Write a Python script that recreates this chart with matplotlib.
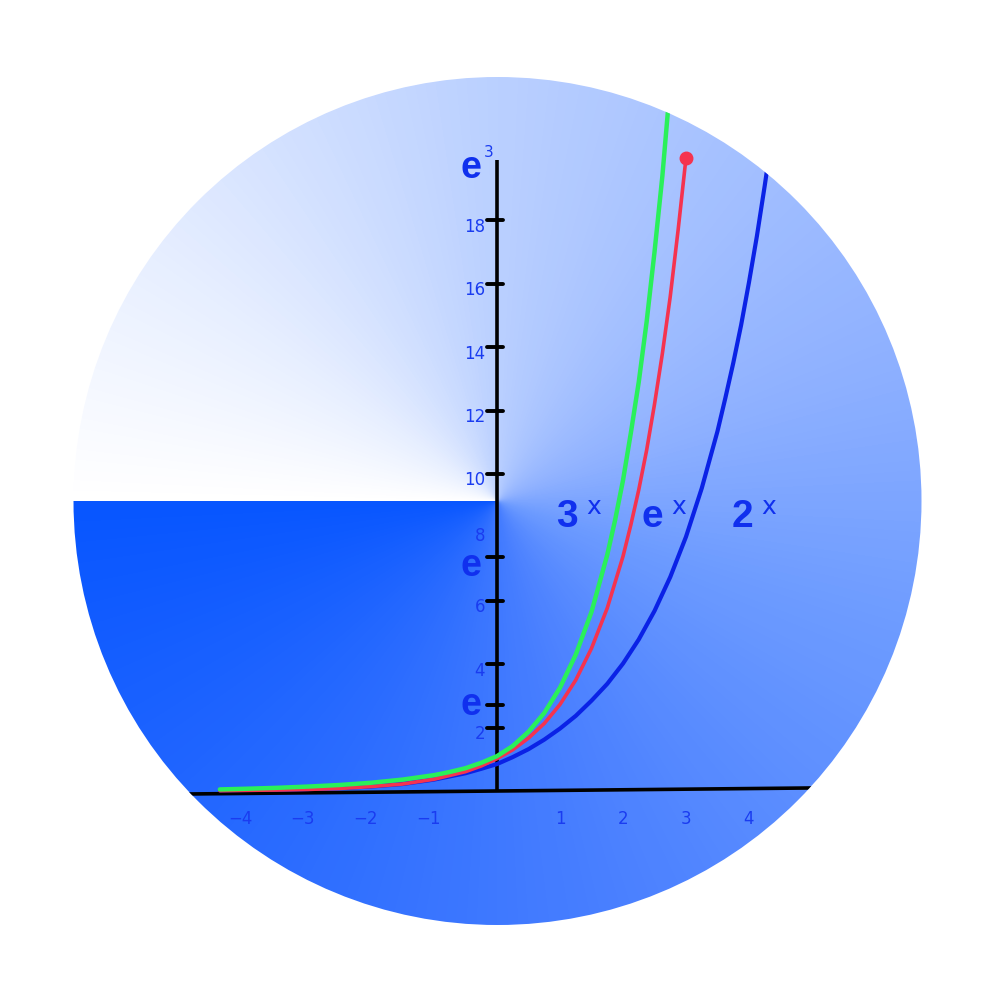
import numpy as np
import matplotlib
matplotlib.use("Agg")
import matplotlib.pyplot as plt
from matplotlib.colors import LinearSegmentedColormap
from matplotlib.patches import Circle

E = np.e

# curve values
green_x = [-4.4, -4.0, -3.5, -3.0, -2.5, -2.0, -1.5, -1.0, -0.75, -0.5, -0.25, 0.0,
           0.25, 0.5, 0.75, 1.0, 1.25, 1.5, 1.75, 1.875, 2.0, 2.125, 2.25, 2.375,
           2.5, 2.625, 2.75, 2.85]
green_y = [0.05, 0.07, 0.10, 0.14, 0.19, 0.26, 0.36, 0.50, 0.60, 0.72, 0.89, 1.10,
           1.42, 1.87, 2.46, 3.26, 4.30, 5.65, 7.45, 8.55, 9.8, 11.3, 12.9, 14.8,
           17.0, 19.4, 22.3, 24.6]

red_x = [-4.4, -4.0, -3.5, -3.0, -2.5, -2.0, -1.5, -1.0, -0.5, -0.25, 0.0, 0.25,
         0.5, 0.75, 1.0, 1.25, 1.5, 1.75, 2.0, 2.125, 2.25, 2.375, 2.5, 2.625,
         2.75, 2.875, 3.0]
red_y = [0.01, 0.02, 0.03, 0.05, 0.08, 0.14, 0.22, 0.37, 0.61, 0.79, 1.02, 1.30,
         1.67, 2.13, 2.73, 3.50, 4.50, 5.77, 7.40, 8.40, 9.50, 10.75, 12.2, 13.8,
         15.6, 17.7, 19.97]

blue_x = [-4.4, -4.0, -3.5, -3.0, -2.5, -2.0, -1.5, -1.0, -0.5, -0.25, 0.0, 0.25,
          0.5, 0.75, 1.0, 1.25, 1.5, 1.75, 2.0, 2.25, 2.5, 2.75, 3.0, 3.25, 3.5,
          3.625, 3.75, 3.875, 4.0, 4.125, 4.25, 4.375, 4.5]
blue_y = [0.02, 0.03, 0.04, 0.06, 0.09, 0.14, 0.22, 0.36, 0.56, 0.70, 0.85, 1.07,
          1.32, 1.62, 1.97, 2.37, 2.85, 3.38, 4.02, 4.78, 5.68, 6.75, 8.02, 9.55,
          11.35, 12.4, 13.5, 14.7, 16.05, 17.5, 19.1, 20.8, 22.7]

y_tick_vals = [2, 4, 6, E, E**2, 10, 12, 14, 16, 18]
y_label_vals = [2, 4, 6, 8, 10, 12, 14, 16, 18]
x_label_vals = [-4, -3, -2, -1, 1, 2, 3, 4]
y_top = 19.9

label_blue = "#1a3cf0"
name_blue = "#1030ee"

fig = plt.figure(figsize=(10, 10), dpi=100)
fig.patch.set_facecolor("white")

# background: conic gradient inside a circle (pixel coordinates)
ax_bg = fig.add_axes([0, 0, 1, 1])
ax_bg.set_xlim(0, 1000)
ax_bg.set_ylim(1000, 0)
ax_bg.axis("off")

cx, cy, rad = 497.5, 501, 424
px, py = np.meshgrid(np.arange(1000) + 0.5, np.arange(1000) + 0.5)
theta = np.mod(np.arctan2(py - cy, -(px - cx)), 2 * np.pi) / (2 * np.pi)

stops = [(0.0, (8, 86, 255)), (0.176, (46, 110, 255)), (0.296, (74, 128, 255)),
         (0.453, (110, 156, 255)), (0.557, (143, 177, 255)), (0.763, (189, 210, 255)),
         (0.9, (230, 238, 255)), (1.0, (255, 255, 255))]
cmap = LinearSegmentedColormap.from_list(
    "conic", [(t, tuple(c / 255 for c in col)) for t, col in stops])
img = ax_bg.imshow(theta, cmap=cmap, vmin=0, vmax=1, extent=(0, 1000, 1000, 0),
                   interpolation="bilinear")
img.set_clip_path(Circle((cx, cy), rad, transform=ax_bg.transData))

# chart axes on top, data coordinates
ax = fig.add_axes([0, 0, 1, 1])
ax.patch.set_alpha(0)
ax.axis("off")
x0, sx = 497, 63.0
y0, sy = 791, 31.7
ax.set_xlim(-x0 / sx, (1000 - x0) / sx)
ax.set_ylim((y0 - 1000) / sy, y0 / sy)

clip_lines = Circle((cx, cy), rad, transform=ax_bg.transData)

# axes lines
xa, = ax.plot([-5.2, 5.2], [-0.1, 0.1], color="black", lw=2.6, zorder=2,
              solid_capstyle="butt")
xa.set_clip_path(clip_lines)
ax.plot([0, 0], [0, y_top], color="black", lw=2.6, zorder=2, solid_capstyle="butt")
for v in y_tick_vals:
    ax.plot([-0.16, 0.1], [v, v], color="black", lw=2.8, zorder=2,
            solid_capstyle="round")

# curves
lb, = ax.plot(blue_x, blue_y, color="#0a22e6", lw=3.0, zorder=3,
              solid_capstyle="round", solid_joinstyle="round")
lr, = ax.plot(red_x, red_y, color="#f5334f", lw=2.6, zorder=4,
              solid_capstyle="round", solid_joinstyle="round")
lg, = ax.plot(green_x, green_y, color="#2af05a", lw=3.2, zorder=5,
              solid_capstyle="round", solid_joinstyle="round")
for ln in (lb, lr, lg):
    ln.set_clip_path(clip_lines)
ax.plot([red_x[-1]], [red_y[-1]], "o", color="#f5334f", ms=9, zorder=6)

# tick labels
for v in y_label_vals:
    dy = -0.05 if v == 8 else 0.2
    ax.text(-0.19, v - dy, str(v), ha="right", va="center", fontsize=12,
            color=label_blue, family="DejaVu Sans", zorder=7)
for v in x_label_vals:
    lab = ("\u2212" + str(-v)) if v < 0 else str(v)
    ax.text(v - (0.08 if v < 0 else 0), -0.88, lab, ha="center", va="center",
            fontsize=12, color=label_blue, family="DejaVu Sans", zorder=7)

# e labels on the y axis
for v in (E, E**2 - 0.3, y_top - 0.25):
    ax.text(-0.41, v, "e", ha="center", va="center", fontsize=27,
            fontweight="bold", color=name_blue, family="Liberation Sans", zorder=7)
ax.text(-0.13, y_top + 0.25, "3", ha="center", va="center", fontsize=11,
        color=label_blue, family="DejaVu Sans", zorder=7)

# curve names
for base, bx in (("3", 567), ("e", 652), ("2", 742)):
    ax_bg.text(bx, 527, base, ha="center", va="baseline", fontsize=28,
               fontweight="bold", color=name_blue, family="Liberation Sans",
               zorder=7)
    ax_bg.text(bx + 27, 507, "x", ha="center", va="center", fontsize=18,
               color=name_blue, family="DejaVu Sans", zorder=7)

fig.savefig("out.png", dpi=100)
